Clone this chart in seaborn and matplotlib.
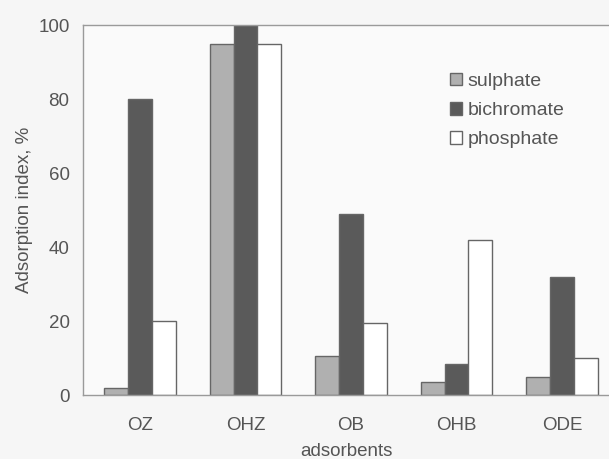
import pandas as pd
import matplotlib
matplotlib.use("Agg")
import matplotlib.pyplot as plt
import seaborn as sns

# values
adsorbents = ["OZ", "OHZ", "OB", "OHB", "ODE"]
sulphate = [2, 95, 10.5, 3.5, 5]
bichromate = [80, 100, 49, 8.5, 32]
phosphate = [20, 95, 19.5, 42, 10]
series_names = ["sulphate", "bichromate", "phosphate"]
series_colors = ["#b0b0b0", "#5a5a5a", "#ffffff"]

df = pd.DataFrame({"adsorbent": adsorbents, "sulphate": sulphate,
                   "bichromate": bichromate, "phosphate": phosphate})
long_df = df.melt(id_vars="adsorbent", var_name="anion", value_name="index")

sns.set_style("white")
plt.rcParams["font.family"] = ["Liberation Sans", "DejaVu Sans"]
text_color = "#555555"

fig = plt.figure(figsize=(6.09, 4.59), dpi=100, facecolor="#f6f6f6")
ax = fig.add_axes([0.137, 0.139, 0.863, 0.806])
ax.set_facecolor("#fafafa")

sns.barplot(data=long_df, x="adsorbent", y="index", hue="anion",
            order=adsorbents, hue_order=series_names,
            palette=dict(zip(series_names, series_colors)),
            width=0.68, edgecolor="#666666", linewidth=1.0,
            ax=ax, legend=True)

ax.set_ylim(0, 100)
ax.set_xlim(-0.536, 4.445)
ax.set_yticks([0, 20, 40, 60, 80, 100])
ax.tick_params(axis="both", colors=text_color, labelsize=13.5, length=0)
ax.tick_params(axis="x", pad=16)
ax.tick_params(axis="y", pad=10)
for side in ["left", "top", "bottom"]:
    ax.spines[side].set_color("#9a9a9a")
    ax.spines[side].set_linewidth(1.0)
ax.spines["right"].set_visible(False)

ax.set_xlabel("adsorbents", color=text_color, fontsize=13.5, labelpad=6)
ax.set_ylabel("Adsorption index, %", color=text_color, fontsize=13.5, labelpad=4)

leg = ax.legend(loc="upper left", bbox_to_anchor=(0.664, 0.919), frameon=False,
                fontsize=14, handlelength=0.62, handleheight=0.62,
                handletextpad=0.3, labelspacing=0.62)
for t in leg.get_texts():
    t.set_color(text_color)

fig.savefig("out.png", dpi=100, facecolor=fig.get_facecolor())
